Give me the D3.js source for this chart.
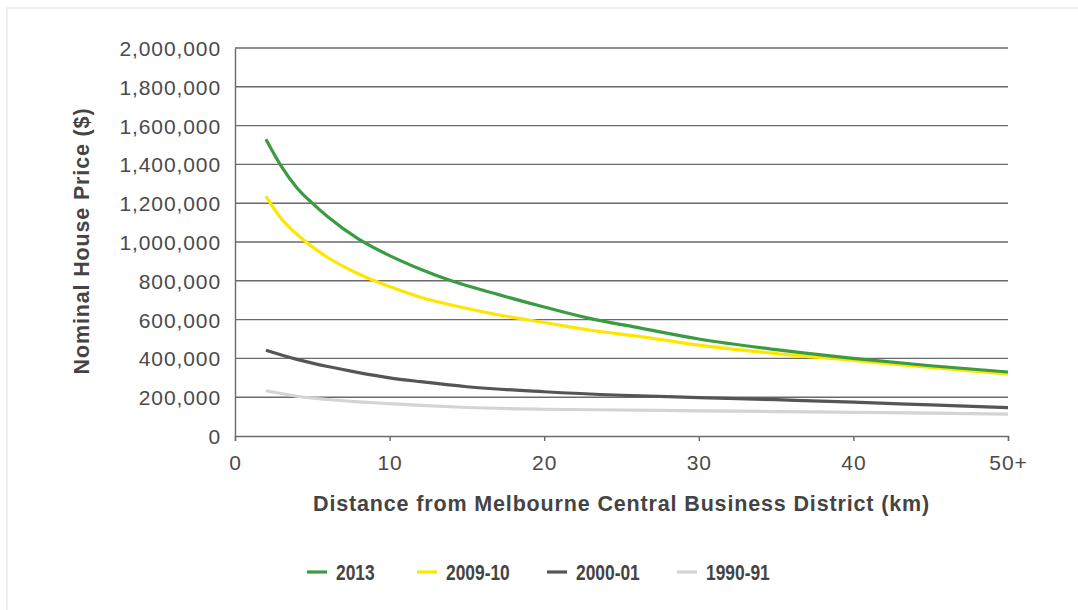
<!DOCTYPE html>
<html lang="en">
<head>
  <meta charset="UTF-8" />
  <title>Melbourne house prices by distance</title>
  <script src="https://d3js.org/d3.v7.min.js"></script>
  <style>
    body { margin: 0; background: #fff; }
    .tick text { fill: #4a4a4a; }
  </style>
</head>
<body>
  <div id="chart"></div>

  <script>
    // distance from CBD (km) and nominal price per series
    const km2013 = [2, 3, 4, 5, 6, 8, 10, 12, 14, 17, 20, 23, 26, 30, 35, 40, 45, 50];
    const price2013 = [1530000, 1390000, 1280000, 1200000, 1130000, 1015000, 930000, 860000, 800000,
                       730000, 665000, 605000, 560000, 500000, 445000, 400000, 362000, 330000];

    const km2009 = [2, 3, 4, 5, 6, 8, 10, 12, 14, 17, 20, 23, 26, 30, 35, 40, 45, 50];
    const price2009 = [1237000, 1120000, 1040000, 975000, 920000, 835000, 770000, 715000, 675000,
                       625000, 585000, 545000, 515000, 468000, 425000, 390000, 353000, 320000];

    const km2000 = [2, 4, 6, 8, 10, 12, 15, 20, 25, 30, 35, 40, 45, 50];
    const price2000 = [442000, 395000, 358000, 327000, 300000, 280000, 254000, 228000, 210000,
                       198000, 187000, 175000, 160000, 146000];

    const km1990 = [2, 4, 6, 8, 10, 12, 15, 20, 25, 30, 35, 40, 45, 50];
    const price1990 = [233000, 205000, 188000, 176000, 167000, 158000, 147000, 138000, 134000,
                       130000, 126000, 122000, 118000, 113000];

    const seriesNames = ["2013", "2009-10", "2000-01", "1990-91"];
    const xTicks = [0, 10, 20, 30, 40, 50];
    const xTickLabels = ["0", "10", "20", "30", "40", "50+"];
    const yTicks = [0, 200000, 400000, 600000, 800000, 1000000, 1200000, 1400000, 1600000, 1800000, 2000000];

    const colors = ["#3a9b41", "#ffe600", "#555555", "#d4d4d4"];
    const series = [
      {name: seriesNames[0], km: km2013, price: price2013},
      {name: seriesNames[1], km: km2009, price: price2009},
      {name: seriesNames[2], km: km2000, price: price2000},
      {name: seriesNames[3], km: km1990, price: price1990}
    ];

    const W = 1078, H = 610;
    const margin = {top: 48, right: 70, bottom: 174, left: 235},
          width = W - margin.left - margin.right,
          height = H - margin.top - margin.bottom;

    const root = d3.select("#chart")
      .append("svg")
      .attr("width", W)
      .attr("height", H);

    // faint frame on the top and left edges
    root.append("rect").attr("x", 6).attr("y", 7).attr("width", W - 6).attr("height", 2).attr("fill", "#eef0ef");
    root.append("rect").attr("x", 6).attr("y", 7).attr("width", 2).attr("height", H - 7).attr("fill", "#eef0ef");

    const svg = root.append("g")
      .attr("transform", `translate(${margin.left},${margin.top})`);

    const x = d3.scaleLinear().domain([0, 50]).range([0, width]);
    const y = d3.scaleLinear().domain([0, 2000000]).range([height, 0]);

    // gridlines
    svg.append("g")
      .selectAll("line")
      .data(yTicks.slice(1))
      .enter()
      .append("line")
      .attr("x1", 0)
      .attr("x2", width)
      .attr("y1", d => y(d))
      .attr("y2", d => y(d))
      .attr("stroke", "#6a6a6a")
      .attr("stroke-width", 1.4);

    // y axis
    const yAxis = svg.append("g")
      .call(d3.axisLeft(y).tickValues(yTicks).tickSize(0).tickPadding(14).tickFormat(d3.format(",")));
    yAxis.select(".domain").attr("stroke", "#6a6a6a").attr("stroke-width", 1.4);
    yAxis.selectAll("text")
      .style("font-family", "'Liberation Sans', Arial, sans-serif")
      .style("font-size", "21px")
      .style("letter-spacing", "0.9px")
      .attr("dy", "0.36em");

    // x axis
    const xAxis = svg.append("g")
      .attr("transform", `translate(0,${height})`)
      .call(d3.axisBottom(x).tickValues(xTicks).tickSize(5).tickPadding(14)
        .tickFormat((d, i) => xTickLabels[i]));
    xAxis.select(".domain").attr("stroke", "#6a6a6a").attr("stroke-width", 1.4);
    xAxis.selectAll("line").attr("stroke", "#6a6a6a").attr("stroke-width", 1.4);
    xAxis.selectAll("text")
      .style("font-family", "'Liberation Sans', Arial, sans-serif")
      .style("font-size", "21px")
      .style("letter-spacing", "0.9px");

    // lines, drawn back to front
    const line = d3.line()
      .x(d => x(d[0]))
      .y(d => y(d[1]))
      .curve(d3.curveMonotoneX);

    series.slice().reverse().forEach((s, i) => {
      const c = colors[series.length - 1 - i];
      svg.append("path")
        .datum(d3.zip(s.km, s.price))
        .attr("fill", "none")
        .attr("stroke", c)
        .attr("stroke-width", 3.2)
        .attr("d", line);
    });

    // axis titles
    svg.append("text")
      .attr("x", width / 2)
      .attr("y", height + 75)
      .attr("text-anchor", "middle")
      .attr("fill", "#444")
      .style("font-family", "'Liberation Sans', Arial, sans-serif")
      .style("font-weight", "bold")
      .style("font-size", "21.5px")
      .style("letter-spacing", "0.85px")
      .text("Distance from Melbourne Central Business District (km)");

    svg.append("text")
      .attr("transform", "rotate(-90)")
      .attr("x", -193)
      .attr("y", -146)
      .attr("text-anchor", "middle")
      .attr("fill", "#444")
      .style("font-family", "'Liberation Sans', Arial, sans-serif")
      .style("font-weight", "bold")
      .style("font-size", "21.5px")
      .style("letter-spacing", "0.85px")
      .text("Nominal House Price ($)");

    // legend
    const legend = root.append("g").attr("transform", "translate(307,572)");
    const item = legend.selectAll("g")
      .data(seriesNames)
      .enter()
      .append("g")
      .attr("transform", (d, i) => `translate(${[0, 110, 240, 370][i]},0)`);

    item.append("line")
      .attr("x1", 0).attr("x2", 20)
      .attr("stroke", (d, i) => colors[i])
      .attr("stroke-width", 3.2);

    item.append("text")
      .attr("transform", "translate(29,0) scale(0.79,1)")
      .attr("dy", "0.36em")
      .attr("fill", "#444")
      .style("font-family", "'Liberation Sans', Arial, sans-serif")
      .style("font-weight", "bold")
      .style("font-size", "22px")
      .text(d => d);
  </script>
</body>
</html>
